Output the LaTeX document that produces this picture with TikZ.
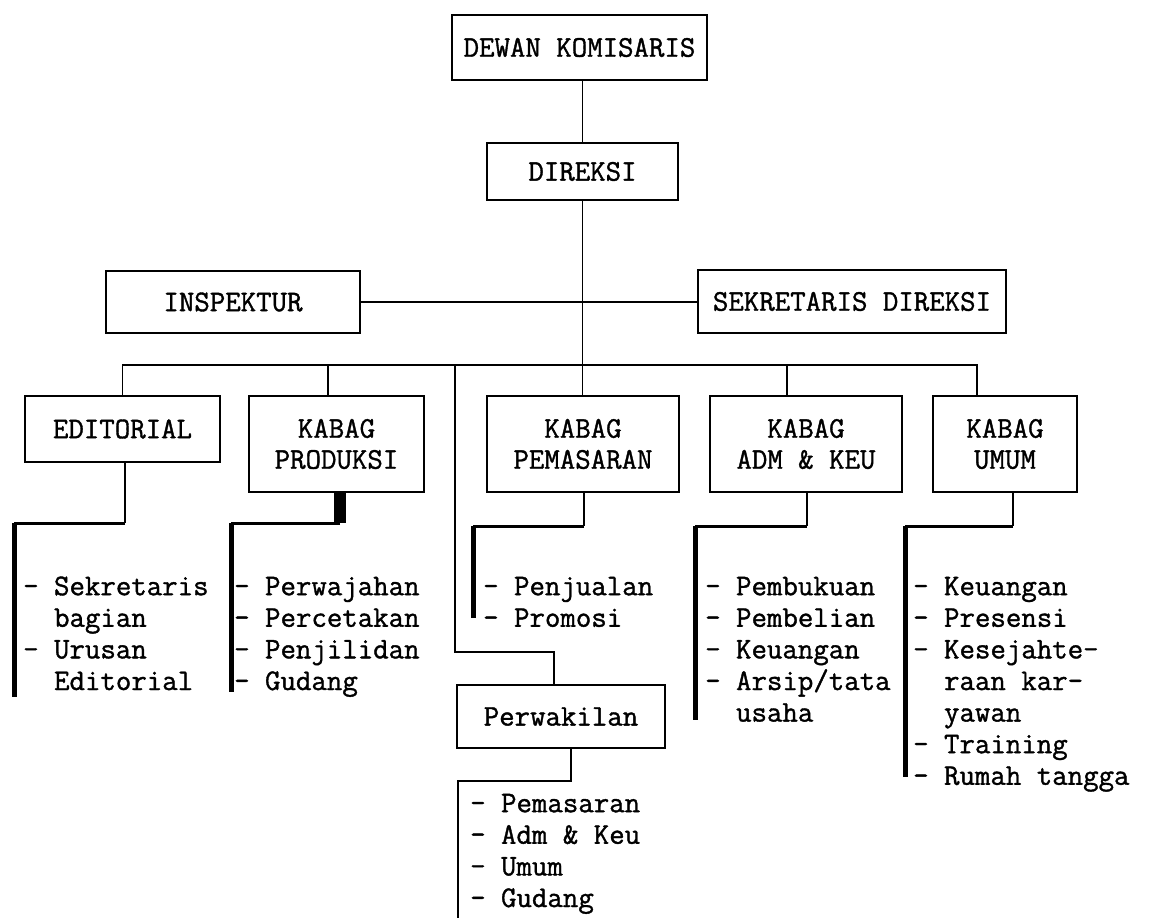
\documentclass[tikz,border=0pt]{standalone}
\usepackage{fontspec}
\newfontfamily\tw[FakeBold=1.2]{Latin Modern Mono}
\begin{document}
\begin{tikzpicture}[x=1pt,y=-1pt,
  box/.style={draw,line width=1.7pt,inner sep=0pt,align=center,font=\tw\fontsize{30}{31}\selectfont},
  lst/.style={anchor=north west,inner sep=0pt,align=left,font=\tw\fontsize{30}{31.6}\selectfont},
  thinline/.style={line width=1.8pt},
  medline/.style={line width=3pt},
  heavyline/.style={line width=5pt}]
\useasboundingbox (0,0) rectangle (1151,918);
\newcommand\ind{\phantom{xx}}
\newcommand\fl{\rule{0pt}{20pt}}
% boxes
\node[box,minimum width=255pt,minimum height=65pt] (dk) at (579.5,47.5) {DEWAN KOMISARIS};
\node[box,minimum width=191pt,minimum height=57pt] (dir) at (582.5,171.5) {DIREKSI};
\node[box,minimum width=254pt,minimum height=62pt] (insp) at (233,302) {INSPEKTUR};
\node[box,minimum width=308pt,minimum height=63pt] (sek) at (852,301.5) {SEKRETARIS DIREKSI};
\node[box,minimum width=195pt,minimum height=66pt] (edit) at (122.5,429) {EDITORIAL};
\node[box,minimum width=175pt,minimum height=96pt] (prod) at (336.5,444) {KABAG\\PRODUKSI};
\node[box,minimum width=192pt,minimum height=96pt] (pem) at (583,444) {KABAG\\PEMASARAN};
\node[box,minimum width=192pt,minimum height=96pt] (adm) at (806,444) {KABAG\\ADM \& KEU};
\node[box,minimum width=144pt,minimum height=96pt] (umum) at (1005,444) {KABAG\\UMUM};
\node[box,minimum width=208pt,minimum height=63pt] (perw) at (561,716.5) {Perwakilan};
% upper connectors
\draw[thinline] (dir.north) -- (dir.north |- dk.south);
\draw[thinline] (dir.south) -- (dir.south |- pem.north);
\draw[thinline] (insp.east) -- (insp.east -| sek.west);
\coordinate (busR) at (977,365);
\coordinate (dP) at (328,365);
\coordinate (dA) at (787,365);
\coordinate (dW) at (455,365);
\coordinate (wk) at (554,652);
\draw[thinline] (edit.north) |- (busR) -- (busR |- umum.north);
\draw[thinline] (dP) -- (dP |- prod.north);
\draw[thinline] (dA) -- (dA |- adm.north);
\draw[thinline] (dW) |- (wk) -- (wk |- perw.north);
% lower connectors
\coordinate (eA) at (125,523); \coordinate (eB) at (14,523); \coordinate (eC) at (14,697);
\draw[thinline] (eA |- edit.south) -- (eA);
\draw[medline] (eA) -- (eB);
\draw[heavyline] (eB) -- (eC);
\coordinate (pA) at (340,523); \coordinate (pB) at (231,523); \coordinate (pC) at (231,692);
\draw[line width=12pt] (pA |- prod.south) -- (pA);
\draw[medline] (pA) -- (pB);
\draw[heavyline] (pB) -- (pC);
\coordinate (mA) at (584,526); \coordinate (mB) at (473,526); \coordinate (mC) at (473,618);
\draw[thinline] (mA |- pem.south) -- (mA);
\draw[medline] (mA) -- (mB);
\draw[heavyline] (mB) -- (mC);
\coordinate (aA) at (807,526); \coordinate (aB) at (695,526); \coordinate (aC) at (695,720);
\draw[thinline] (aA |- adm.south) -- (aA);
\draw[medline] (aA) -- (aB);
\draw[heavyline] (aB) -- (aC);
\coordinate (uA) at (1013,526); \coordinate (uB) at (905,526); \coordinate (uC) at (905,777);
\draw[thinline] (uA |- umum.south) -- (uA);
\draw[medline] (uA) -- (uB);
\draw[heavyline] (uB) -- (uC);
\coordinate (kA) at (571,781); \coordinate (kB) at (458,781); \coordinate (kC) at (458,918);
\draw[thinline] (kA |- perw.south) -- (kA) -- (kB) -- (kC);
% lists
\node[lst] (edl) at (23,575) {\fl- Sekretaris\\\ind bagian\\- Urusan\\\ind Editorial};
\node[lst] (prl) at (234,575) {\fl- Perwajahan\\- Percetakan\\- Penjilidan\\- Gudang};
\node[lst] (pml) at (483,575) {\fl- Penjualan\\- Promosi};
\node[lst] (adl) at (705,575) {\fl- Pembukuan\\- Pembelian\\- Keuangan\\- Arsip/tata\\\ind usaha};
\node[lst] (uml) at (913,575) {\fl- Keuangan\\- Presensi\\- Kesejahte-\\\ind raan kar-\\\ind yawan\\- Training\\- Rumah tangga};
\node[lst] (pwl) at (470,792) {\fl- Pemasaran\\- Adm \& Keu\\- Umum\\- Gudang};
\end{tikzpicture}
\end{document}
